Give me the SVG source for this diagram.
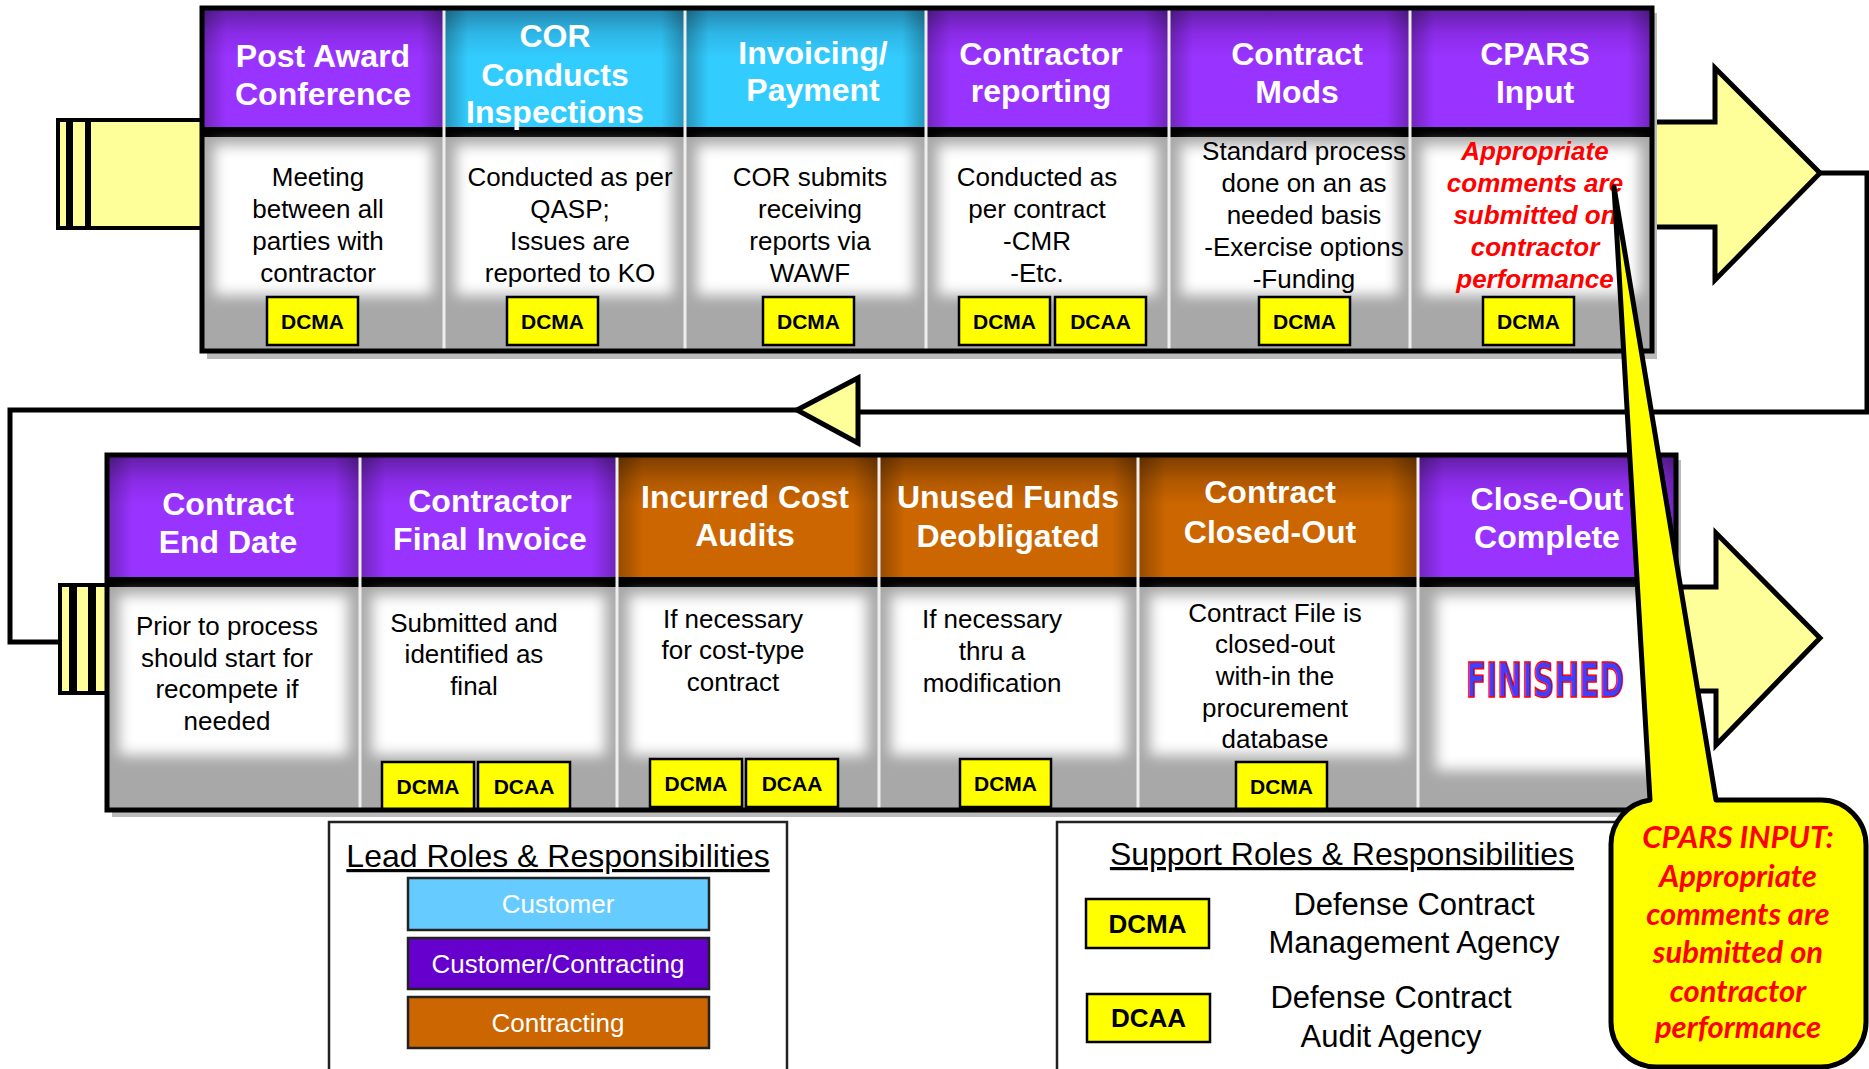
<svg xmlns="http://www.w3.org/2000/svg" width="1869" height="1069" viewBox="0 0 1869 1069">
<defs>
<linearGradient id="gPurple" x1="0" y1="0" x2="0" y2="1"><stop offset="0" stop-color="#6420a8"/><stop offset="0.2" stop-color="#8a2be6"/><stop offset="0.4" stop-color="#9933ff"/><stop offset="1" stop-color="#9933ff"/></linearGradient>
<linearGradient id="gCyan" x1="0" y1="0" x2="0" y2="1"><stop offset="0" stop-color="#2488b0"/><stop offset="0.2" stop-color="#2eb6e6"/><stop offset="0.4" stop-color="#33ccff"/><stop offset="1" stop-color="#33ccff"/></linearGradient>
<linearGradient id="gOrange" x1="0" y1="0" x2="0" y2="1"><stop offset="0" stop-color="#7e3e00"/><stop offset="0.2" stop-color="#b05800"/><stop offset="0.4" stop-color="#cc6600"/><stop offset="1" stop-color="#cc6600"/></linearGradient>
<linearGradient id="gEdge" x1="0" y1="0" x2="1" y2="0"><stop offset="0" stop-color="#000" stop-opacity="0.28"/><stop offset="0.1" stop-color="#000" stop-opacity="0"/><stop offset="0.9" stop-color="#000" stop-opacity="0"/><stop offset="1" stop-color="#000" stop-opacity="0.28"/></linearGradient>
<filter id="soft" x="-20%" y="-20%" width="140%" height="140%"><feGaussianBlur stdDeviation="7"/></filter>
<style>
.hd{font-family:"Liberation Sans",Arial,sans-serif;font-weight:bold;font-size:32px;fill:#fff;text-anchor:middle}
.bd{font-family:"Liberation Sans",Arial,sans-serif;font-size:26px;fill:#000;text-anchor:middle}
.rd{font-family:"Liberation Sans",Arial,sans-serif;font-size:26px;font-weight:bold;font-style:italic;fill:#ff0000;text-anchor:middle}
.band{fill:#000}
.body{fill:#a8a8a8}
.glow{fill:#fff;filter:url(#soft)}
.tag{fill:#ffff00;stroke:#000;stroke-width:2.5}
.tagt{font-family:"Liberation Sans",Arial,sans-serif;font-weight:bold;font-size:21px;fill:#000;text-anchor:middle}
.tagl{font-family:"Liberation Sans",Arial,sans-serif;font-weight:bold;font-size:26px;fill:#000;text-anchor:middle}
.ln{fill:none;stroke:#000;stroke-width:5}
.arr{fill:#ffff99;stroke:#000;stroke-width:5;stroke-linejoin:miter}
.tape{fill:#ffff99;stroke:#000;stroke-width:4}
.div{stroke:#eeeeee;stroke-width:3}
.lg{font-family:"Liberation Sans",Arial,sans-serif;font-size:31px;fill:#000;text-anchor:middle}
.lgh{font-family:"Liberation Sans",Arial,sans-serif;font-size:32px;fill:#000;text-anchor:middle;text-decoration:underline}
.lgb{stroke:#222;stroke-width:2.5}
.lgt{font-family:"Liberation Sans",Arial,sans-serif;font-size:26px;fill:#fff;text-anchor:middle}
.co{font-family:Lato,"Liberation Sans",sans-serif;font-weight:bold;font-style:italic;font-size:31px;fill:#ff0000;text-anchor:middle}
</style>
</defs>
<rect width="1869" height="1069" fill="#fff"/>

<g id="connectors">
<polygon class="arr" points="1640,122 1715,122 1715,68 1820,173 1715,280 1715,227 1640,227"/>
<polyline class="ln" points="1820,173 1867,173 1867,412 858,412"/>
<polygon class="arr" points="797,410 858,378 858,443"/>
<polyline class="ln" points="797,410 10,410 10,642 60,642"/>
<polygon class="arr" points="1660,587 1716,587 1716,533 1820,638 1716,745 1716,691 1660,691"/>
<rect class="tape" x="89" y="120" width="116" height="108"/>
<rect class="tape" x="71" y="120" width="16" height="108"/>
<rect class="tape" x="58" y="120" width="10" height="108"/>
<rect class="tape" x="60" y="585" width="11" height="108"/>
<rect class="tape" x="75" y="585" width="15" height="108"/>
<rect class="tape" x="94" y="585" width="15" height="108"/>
</g>

<rect x="207" y="13" width="1450" height="346" fill="#bbbbbb"/>
<rect x="112" y="460" width="1569" height="357" fill="#bbbbbb"/>

<g id="n-post-award">
<rect x="202" y="10" width="242" height="118" fill="url(#gPurple)"/><rect x="202" y="10" width="242" height="118" fill="url(#gEdge)"/>
<rect class="band" x="202" y="127" width="242" height="10"/><rect class="body" x="202" y="137" width="242" height="212"/><rect class="glow" x="214" y="145" width="218" height="150"/>
<text class="hd" x="323" y="67">Post Award</text><text class="hd" x="323" y="105">Conference</text>
<text class="bd" x="318" y="186">Meeting</text><text class="bd" x="318" y="218">between all</text><text class="bd" x="318" y="250">parties with</text><text class="bd" x="318" y="282">contractor</text>
<rect class="tag" x="267" y="297" width="91" height="48"/><text class="tagt" x="312.5" y="329">DCMA</text>
</g>
<g id="n-cor-inspections">
<rect x="444" y="10" width="241" height="118" fill="url(#gCyan)"/><rect x="444" y="10" width="241" height="118" fill="url(#gEdge)"/>
<rect class="band" x="444" y="127" width="241" height="10"/><rect class="body" x="444" y="137" width="241" height="212"/><rect class="glow" x="456" y="145" width="217" height="150"/>
<text class="hd" x="555" y="47">COR</text><text class="hd" x="555" y="86">Conducts</text><text class="hd" x="555" y="123">Inspections</text>
<text class="bd" x="570" y="186">Conducted as per</text><text class="bd" x="570" y="218">QASP;</text><text class="bd" x="570" y="250">Issues are</text><text class="bd" x="570" y="282">reported to KO</text>
<rect class="tag" x="507" y="297" width="91" height="48"/><text class="tagt" x="552.5" y="329">DCMA</text>
</g>
<g id="n-invoicing">
<rect x="685" y="10" width="241" height="118" fill="url(#gCyan)"/><rect x="685" y="10" width="241" height="118" fill="url(#gEdge)"/>
<rect class="band" x="685" y="127" width="241" height="10"/><rect class="body" x="685" y="137" width="241" height="212"/><rect class="glow" x="697" y="145" width="217" height="150"/>
<text class="hd" x="813" y="64">Invoicing/</text><text class="hd" x="813" y="101">Payment</text>
<text class="bd" x="810" y="186">COR submits</text><text class="bd" x="810" y="218">receiving</text><text class="bd" x="810" y="250">reports via</text><text class="bd" x="810" y="282">WAWF</text>
<rect class="tag" x="763" y="297" width="91" height="48"/><text class="tagt" x="808.5" y="329">DCMA</text>
</g>
<g id="n-contractor-reporting">
<rect x="926" y="10" width="243" height="118" fill="url(#gPurple)"/><rect x="926" y="10" width="243" height="118" fill="url(#gEdge)"/>
<rect class="band" x="926" y="127" width="243" height="10"/><rect class="body" x="926" y="137" width="243" height="212"/><rect class="glow" x="938" y="145" width="219" height="150"/>
<text class="hd" x="1041" y="65">Contractor</text><text class="hd" x="1041" y="102">reporting</text>
<text class="bd" x="1037" y="186">Conducted as</text><text class="bd" x="1037" y="218">per contract</text><text class="bd" x="1037" y="250">-CMR</text><text class="bd" x="1037" y="282">-Etc.</text>
<rect class="tag" x="959" y="297" width="91" height="48"/><text class="tagt" x="1004.5" y="329">DCMA</text>
<rect class="tag" x="1055" y="297" width="91" height="48"/><text class="tagt" x="1100.5" y="329">DCAA</text>
</g>
<g id="n-contract-mods">
<rect x="1169" y="10" width="241" height="118" fill="url(#gPurple)"/><rect x="1169" y="10" width="241" height="118" fill="url(#gEdge)"/>
<rect class="band" x="1169" y="127" width="241" height="10"/><rect class="body" x="1169" y="137" width="241" height="212"/><rect class="glow" x="1181" y="145" width="217" height="150"/>
<text class="hd" x="1297" y="65">Contract</text><text class="hd" x="1297" y="103">Mods</text>
<text class="bd" x="1304" y="160">Standard process</text><text class="bd" x="1304" y="192">done on an as</text><text class="bd" x="1304" y="224">needed basis</text><text class="bd" x="1304" y="256">-Exercise options</text><text class="bd" x="1304" y="288">-Funding</text>
<rect class="tag" x="1259" y="297" width="91" height="48"/><text class="tagt" x="1304.5" y="329">DCMA</text>
</g>
<g id="n-cpars-input">
<rect x="1410" y="10" width="242" height="118" fill="url(#gPurple)"/><rect x="1410" y="10" width="242" height="118" fill="url(#gEdge)"/>
<rect class="band" x="1410" y="127" width="242" height="10"/><rect class="body" x="1410" y="137" width="242" height="212"/><rect class="glow" x="1422" y="145" width="218" height="150"/>
<text class="hd" x="1535" y="65">CPARS</text><text class="hd" x="1535" y="103">Input</text>
<text class="rd" x="1535" y="160">Appropriate</text><text class="rd" x="1535" y="192">comments are</text><text class="rd" x="1535" y="224">submitted on</text><text class="rd" x="1535" y="256">contractor</text><text class="rd" x="1535" y="288">performance</text>
<rect class="tag" x="1483" y="297" width="91" height="48"/><text class="tagt" x="1528.5" y="329">DCMA</text>
</g>
<g id="top-frame">
<line class="div" x1="444" y1="10" x2="444" y2="350"/><line class="div" x1="685" y1="10" x2="685" y2="350"/><line class="div" x1="926" y1="10" x2="926" y2="350"/><line class="div" x1="1169" y1="10" x2="1169" y2="350"/><line class="div" x1="1410" y1="10" x2="1410" y2="350"/>
<rect x="202" y="8" width="1450" height="343" fill="none" stroke="#000" stroke-width="5"/>
</g>

<g id="n-contract-end">
<rect x="107" y="457" width="253" height="120" fill="url(#gPurple)"/><rect x="107" y="457" width="253" height="120" fill="url(#gEdge)"/>
<rect class="band" x="107" y="577" width="253" height="10"/><rect class="body" x="107" y="587" width="253" height="222"/><rect class="glow" x="119" y="595" width="229" height="160"/>
<text class="hd" x="228" y="515">Contract</text><text class="hd" x="228" y="553">End Date</text>
<text class="bd" x="227" y="635">Prior to process</text><text class="bd" x="227" y="667">should start for</text><text class="bd" x="227" y="698">recompete if</text><text class="bd" x="227" y="730">needed</text>
</g>
<g id="n-final-invoice">
<rect x="360" y="457" width="257" height="120" fill="url(#gPurple)"/><rect x="360" y="457" width="257" height="120" fill="url(#gEdge)"/>
<rect class="band" x="360" y="577" width="257" height="10"/><rect class="body" x="360" y="587" width="257" height="222"/><rect class="glow" x="372" y="595" width="233" height="160"/>
<text class="hd" x="490" y="512">Contractor</text><text class="hd" x="490" y="550">Final Invoice</text>
<text class="bd" x="474" y="632">Submitted and</text><text class="bd" x="474" y="663">identified as</text><text class="bd" x="474" y="695">final</text>
<rect class="tag" x="382" y="762" width="92" height="48"/><text class="tagt" x="428" y="794">DCMA</text>
<rect class="tag" x="478" y="762" width="92" height="48"/><text class="tagt" x="524" y="794">DCAA</text>
</g>
<g id="n-incurred-cost">
<rect x="617" y="457" width="262" height="120" fill="url(#gOrange)"/><rect x="617" y="457" width="262" height="120" fill="url(#gEdge)"/>
<rect class="band" x="617" y="577" width="262" height="10"/><rect class="body" x="617" y="587" width="262" height="222"/><rect class="glow" x="629" y="595" width="238" height="160"/>
<text class="hd" x="745" y="508">Incurred Cost</text><text class="hd" x="745" y="546">Audits</text>
<text class="bd" x="733" y="628">If necessary</text><text class="bd" x="733" y="659">for cost-type</text><text class="bd" x="733" y="691">contract</text>
<rect class="tag" x="650" y="759" width="92" height="48"/><text class="tagt" x="696" y="791">DCMA</text>
<rect class="tag" x="746" y="759" width="92" height="48"/><text class="tagt" x="792" y="791">DCAA</text>
</g>
<g id="n-unused-funds">
<rect x="879" y="457" width="259" height="120" fill="url(#gOrange)"/><rect x="879" y="457" width="259" height="120" fill="url(#gEdge)"/>
<rect class="band" x="879" y="577" width="259" height="10"/><rect class="body" x="879" y="587" width="259" height="222"/><rect class="glow" x="891" y="595" width="235" height="160"/>
<text class="hd" x="1008" y="508">Unused Funds</text><text class="hd" x="1008" y="547">Deobligated</text>
<text class="bd" x="992" y="628">If necessary</text><text class="bd" x="992" y="660">thru a</text><text class="bd" x="992" y="692">modification</text>
<rect class="tag" x="960" y="759" width="91" height="48"/><text class="tagt" x="1005.5" y="791">DCMA</text>
</g>
<g id="n-closed-out">
<rect x="1138" y="457" width="280" height="120" fill="url(#gOrange)"/><rect x="1138" y="457" width="280" height="120" fill="url(#gEdge)"/>
<rect class="band" x="1138" y="577" width="280" height="10"/><rect class="body" x="1138" y="587" width="280" height="222"/><rect class="glow" x="1150" y="595" width="256" height="160"/>
<text class="hd" x="1270" y="503">Contract</text><text class="hd" x="1270" y="543">Closed-Out</text>
<text class="bd" x="1275" y="622">Contract File is</text><text class="bd" x="1275" y="653">closed-out</text><text class="bd" x="1275" y="685">with-in the</text><text class="bd" x="1275" y="717">procurement</text><text class="bd" x="1275" y="748">database</text>
<rect class="tag" x="1236" y="762" width="91" height="48"/><text class="tagt" x="1281.5" y="794">DCMA</text>
</g>
<g id="n-closeout-complete">
<rect x="1418" y="457" width="258" height="120" fill="url(#gPurple)"/><rect x="1418" y="457" width="258" height="120" fill="url(#gEdge)"/>
<rect class="band" x="1418" y="577" width="258" height="10"/><rect class="body" x="1418" y="587" width="258" height="222"/><rect class="glow" x="1436" y="595" width="228" height="175"/>
<text class="hd" x="1547" y="510">Close-Out</text><text class="hd" x="1547" y="548">Complete</text>
<text x="1466" y="697" textLength="158" lengthAdjust="spacingAndGlyphs" font-family="'Liberation Sans Narrow','DejaVu Sans Condensed','Liberation Sans',sans-serif" font-weight="bold" font-size="48" fill="#3f3fff" stroke="#ff0000" stroke-width="1.5">FINISHED</text>
</g>
<g id="bottom-frame">
<line class="div" x1="360" y1="457" x2="360" y2="809"/><line class="div" x1="617" y1="457" x2="617" y2="809"/><line class="div" x1="879" y1="457" x2="879" y2="809"/><line class="div" x1="1138" y1="457" x2="1138" y2="809"/><line class="div" x1="1418" y1="457" x2="1418" y2="809"/>
<rect x="107" y="455" width="1569" height="355" fill="none" stroke="#000" stroke-width="5"/>
</g>

<g id="legend-lead">
<rect x="329" y="822" width="458" height="260" fill="#fff" stroke="#222" stroke-width="2.5"/>
<text class="lgh" x="558" y="867">Lead Roles &amp; Responsibilities</text>
<rect class="lgb" x="408" y="878" width="301" height="52" fill="#66ccff"/><text class="lgt" x="558" y="913">Customer</text>
<rect class="lgb" x="408" y="938" width="301" height="51" fill="#6600cc"/><text class="lgt" x="558" y="973">Customer/Contracting</text>
<rect class="lgb" x="408" y="997" width="301" height="51" fill="#cc6600"/><text class="lgt" x="558" y="1032">Contracting</text>
</g>
<g id="legend-support">
<rect x="1057" y="822" width="600" height="260" fill="#fff" stroke="#222" stroke-width="2.5"/>
<text class="lgh" x="1342" y="865">Support Roles &amp; Responsibilities</text>
<rect class="tag" x="1086" y="899" width="123" height="49"/><text class="tagl" x="1147.5" y="933">DCMA</text>
<text class="lg" x="1414" y="915">Defense Contract</text><text class="lg" x="1414" y="953">Management Agency</text>
<rect class="tag" x="1087" y="994" width="123" height="48"/><text class="tagl" x="1148.5" y="1027">DCAA</text>
<text class="lg" x="1391" y="1008">Defense Contract</text><text class="lg" x="1391" y="1047">Audit Agency</text>
</g>

<g id="callout">
<path d="M1650,800 L1614,187 L1716,800 H1821 A45,45 0 0 1 1866,845 V1022 A45,45 0 0 1 1821,1067 H1656 A45,45 0 0 1 1611,1022 V845 A45,45 0 0 1 1650,800 Z" fill="#ffff00" stroke="#000" stroke-width="5" stroke-linejoin="round"/>
<text class="co" x="1738" y="848">CPARS INPUT:</text>
<text class="co" x="1738" y="887">Appropriate</text>
<text class="co" x="1738" y="925">comments are</text>
<text class="co" x="1738" y="963">submitted on</text>
<text class="co" x="1738" y="1002">contractor</text>
<text class="co" x="1738" y="1038">performance</text>
</g>
</svg>
